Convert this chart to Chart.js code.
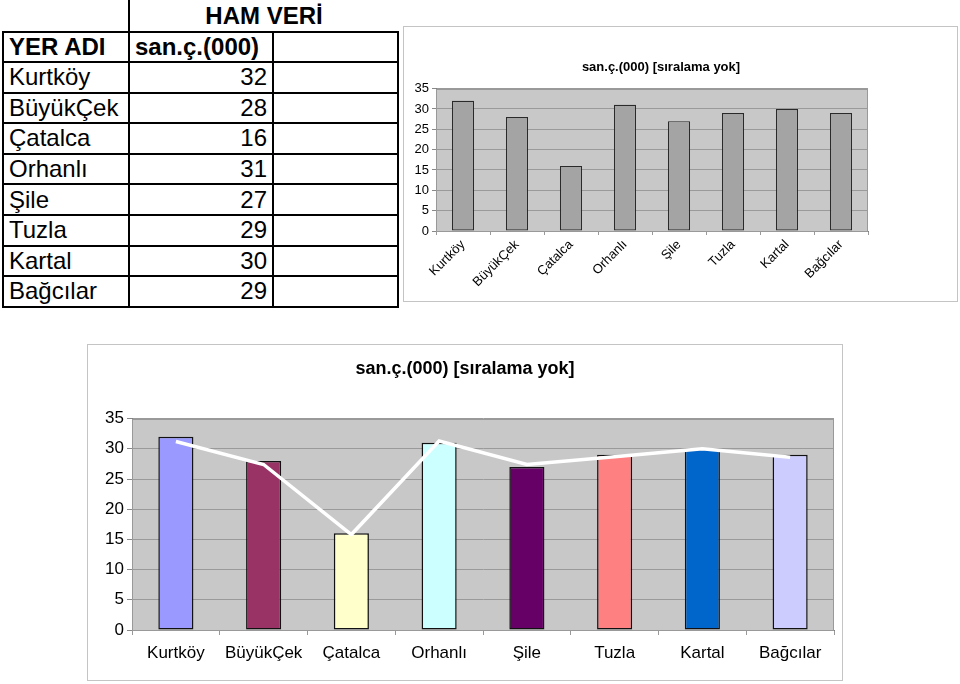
<!DOCTYPE html>
<html>
<head>
<meta charset="utf-8">
<script src="https://cdn.jsdelivr.net/npm/chart.js@4/dist/chart.umd.min.js"></script>
<style>
  html, body { margin: 0; padding: 0; background: #fff; }
  body { width: 960px; height: 684px; position: relative; overflow: hidden;
         font-family: "Liberation Sans", Arial, sans-serif; }
  #tbl { position: absolute; left: 2px; top: 0; border-collapse: collapse; table-layout: fixed; }
  #tbl td { padding: 0 5px; font-size: 24px; line-height: 24px; color: #000; white-space: nowrap; overflow: hidden; }
  #tbl td.b { border: 2px solid #000; }
  #tbl td.num { text-align: right; }
  .frame { position: absolute; border: 1px solid #c4c4c4; background: #fff; }
  .frame canvas { display: block; }
</style>
</head>
<body>
<table id="tbl"></table>
<div class="frame" style="left:403px; top:26px; width:553px; height:274px;">
  <canvas id="small" width="553" height="274"></canvas>
</div>
<div class="frame" style="left:87px; top:344px; width:754px; height:335px;">
  <canvas id="big" width="754" height="335"></canvas>
</div>
<script>
// ---- data ----
const tableTitle = "HAM VERİ";
const colHeaders = ["YER ADI", "san.ç.(000)"];
const categories = ["Kurtköy", "BüyükÇek", "Çatalca", "Orhanlı", "Şile", "Tuzla", "Kartal", "Bağcılar"];
const values = [32, 28, 16, 31, 27, 29, 30, 29];
const lineValues = [31.2, 27.4, 15.8, 31.3, 27.4, 28.7, 30.0, 28.6];
const chartTitle = "san.ç.(000) [sıralama yok]";
const yTicks = [0, 5, 10, 15, 20, 25, 30, 35];
const barColors = ["#9999FF", "#993366", "#FFFFCC", "#CCFFFF", "#660066", "#FF8080", "#0066CC", "#CCCCFF"];

// ---- table ----
const tbl = document.getElementById('tbl');
let html = '<colgroup><col style="width:126px"><col style="width:144px"><col style="width:125px"></colgroup>';
html += '<tr style="height:32px"><td></td><td colspan="2" style="border-left:2px solid #000;text-align:center;font-weight:bold;padding:0">' + tableTitle + '</td></tr>';
html += '<tr style="height:30px"><td class="b" style="font-weight:bold">' + colHeaders[0] + '</td><td class="b" style="font-weight:bold">' + colHeaders[1] + '</td><td class="b"></td></tr>';
categories.forEach((c, i) => {
  html += '<tr style="height:30.6px"><td class="b">' + c + '</td><td class="b num">' + values[i] + '</td><td class="b"></td></tr>';
});
tbl.innerHTML = html;

// ---- plugins ----
const plotArea = {
  id: 'plotArea',
  beforeDraw(chart, args, opts) {
    const { ctx, chartArea: a } = chart;
    ctx.save();
    ctx.fillStyle = opts.bg;
    ctx.fillRect(a.left, a.top, a.right - a.left, a.bottom - a.top);
    ctx.restore();
  },
  beforeDatasetsDraw(chart, args, opts) {
    const { ctx, chartArea: a } = chart;
    ctx.save();
    ctx.strokeStyle = opts.border;
    ctx.lineWidth = 1;
    ctx.strokeRect(Math.round(a.left) + 0.5, Math.round(a.top) + 0.5, Math.round(a.right - a.left) - 1, Math.round(a.bottom - a.top));
    ctx.restore();
  }
};

const FONT = '"Liberation Sans", Arial, sans-serif';
Chart.defaults.font.family = FONT;
Chart.defaults.color = '#000';

// empty right-side spacer axis (keeps title centred like the original)
function spacer(w) {
  return {
    position: 'right', display: true, min: 0, max: 35,
    afterFit(s) { s.width = w; },
    ticks: { display: false },
    grid: { display: false, drawTicks: false },
    border: { display: false }
  };
}

// ---- small chart ----
new Chart(document.getElementById('small'), {
  type: 'bar',
  data: {
    labels: categories,
    datasets: [{
      data: values,
      backgroundColor: '#a4a4a4',
      borderColor: '#2a2a2a',
      borderWidth: 1.2,
      borderSkipped: false,
      barPercentage: 0.41,
      categoryPercentage: 1.0
    }]
  },
  options: {
    responsive: false,
    animation: false,
    devicePixelRatio: 1,
    layout: { padding: { left: 0, right: 39, top: 0, bottom: 0 } },
    plugins: {
      legend: { display: false },
      tooltip: { enabled: false },
      title: {
        display: true, text: chartTitle, color: '#000',
        font: { size: 13, weight: 'bold', family: FONT }, lineHeight: 1.2,
        padding: { top: 33, bottom: 13 }
      },
      plotArea: { bg: '#c8c8c8', border: '#999' }
    },
    scales: {
      y: {
        min: 0, max: 35,
        afterBuildTicks(s) { s.ticks = yTicks.map(v => ({ value: v })); },
        afterFit(s) { s.width = 32; },
        ticks: { font: { size: 13 }, padding: 3, color: '#000' },
        grid: { color: '#9a9a9a', tickColor: '#888', tickLength: 4 },
        border: { color: '#808080' }
      },
      yr: spacer(50),
      x: {
        afterFit(s) { s.height = 70; },
        ticks: { font: { size: 13 }, minRotation: 45, maxRotation: 45, padding: 2, color: '#000', autoSkip: false },
        grid: { drawOnChartArea: false, tickColor: '#999', tickLength: 4, offset: true },
        border: { color: '#808080' }
      }
    }
  },
  plugins: [plotArea]
});

// ---- big chart ----
new Chart(document.getElementById('big'), {
  data: {
    labels: categories,
    datasets: [
      {
        type: 'line',
        data: lineValues,
        borderColor: '#ffffff',
        borderWidth: 3.5,
        pointRadius: 0,
        tension: 0,
        fill: false,
        order: 0
      },
      {
        type: 'bar',
        data: values,
        backgroundColor: barColors,
        borderColor: '#111',
        borderWidth: 1.5,
        borderSkipped: false,
        barPercentage: 0.4,
        categoryPercentage: 1.0,
        order: 1
      }
    ]
  },
  options: {
    responsive: false,
    animation: false,
    devicePixelRatio: 1,
    layout: { padding: { left: 0, right: 0, top: 0, bottom: 0 } },
    plugins: {
      legend: { display: false },
      tooltip: { enabled: false },
      title: {
        display: true, text: chartTitle, color: '#000',
        font: { size: 18, weight: 'bold', family: FONT }, lineHeight: 1.2,
        padding: { top: 13, bottom: 39 }
      },
      plotArea: { bg: '#c8c8c8', border: '#999' }
    },
    scales: {
      y: {
        min: 0, max: 35,
        afterBuildTicks(s) { s.ticks = yTicks.map(v => ({ value: v })); },
        afterFit(s) { s.width = 44; },
        ticks: { font: { size: 17 }, padding: 3, color: '#000' },
        grid: { color: '#9a9a9a', tickColor: '#888', tickLength: 5 },
        border: { color: '#808080' }
      },
      yr: spacer(8),
      x: {
        type: 'category',
        offset: true,
        afterFit(s) { s.height = 50; },
        ticks: { font: { size: 17 }, maxRotation: 0, minRotation: 0, padding: 8, color: '#000', autoSkip: false },
        grid: { drawOnChartArea: false, tickColor: '#999', tickLength: 5, offset: true },
        border: { color: '#808080' }
      }
    }
  },
  plugins: [plotArea]
});
</script>
</body>
</html>
